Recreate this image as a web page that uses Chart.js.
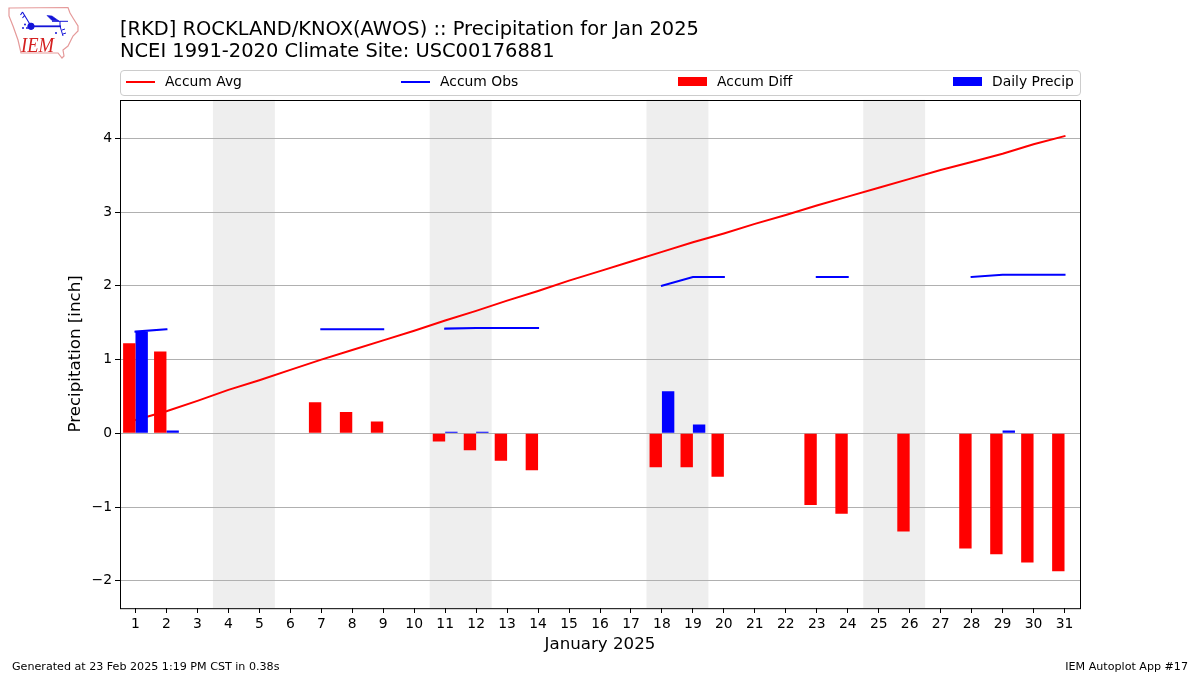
<!DOCTYPE html>
<html><head><meta charset="utf-8">
<style>
html,body{margin:0;padding:0;background:#fff;}
#wrap{position:relative;width:1200px;height:675px;overflow:hidden;font-family:"DejaVu Sans",sans-serif;color:#000;}
#c{position:absolute;left:0;top:0;}
#legend{position:absolute;left:120px;top:70px;width:959px;height:24px;border:1px solid #ccc;border-radius:4px;box-sizing:content-box;}
.li{position:absolute;top:0;height:24px;font-size:13.89px;line-height:20px;white-space:nowrap;}
.foot{position:absolute;top:660px;font-size:11.11px;line-height:13px;white-space:nowrap;}
#logo{position:absolute;left:5px;top:3px;}
</style></head><body>
<div id="wrap">
<canvas id="c" width="1200" height="675" style="width:1200px;height:675px"></canvas>
<svg id="logo" width="80" height="58" viewBox="0 0 80 58">
<path d="M4 5 L63 4.5 L65 10 L68 15 L73 23 L73 28 L68 33 L66 37 L63 43 L58 47 L59 53 L57 55 L53 50 L16 50 L13 37 L8 23 L4 13 Z" fill="none" stroke="#e59a9a" stroke-width="1.2"/>
<g stroke="#1414d8" fill="#1414d8">
<path d="M26 23.3 H56" stroke-width="1.8"/>
<circle cx="26" cy="23.3" r="3.2"/>
<path d="M26 23 L17.5 9 M17.5 9 L15.5 12 M19.5 12.5 L17.5 15" fill="none" stroke-width="1.1"/>
<path d="M42 12.5 L47 13 L54 18 L47 17.5 Z" stroke-width="0.6"/>
<path d="M47 18.3 H63 M55 18 V23 L58 33 M57 27 L60 26 M58 31 L61 30" fill="none" stroke-width="1"/>
<circle cx="20" cy="21.5" r="1" stroke="none"/><circle cx="18" cy="25" r="1" stroke="none"/><circle cx="22" cy="25" r="1" stroke="none"/>
<circle cx="51" cy="30" r="1" stroke="none"/>
</g>
<text x="16" y="48.5" font-family="Liberation Serif" font-style="italic" font-size="20" fill="#d42020" textLength="33" lengthAdjust="spacingAndGlyphs">IEM</text>
</svg>
<div id="legend"></div>
<div class="foot" style="left:12px">Generated at 23 Feb 2025 1:19 PM CST in 0.38s</div>
<div class="foot" style="right:12px">IEM Autoplot App #17</div>
</div>
<script src="https://cdn.jsdelivr.net/npm/chart.js@4/dist/chart.umd.min.js"></script>
<script>
const titleLines = ["[RKD] ROCKLAND/KNOX(AWOS) :: Precipitation for Jan 2025","NCEI 1991-2020 Climate Site: USC00176881"];
const days = ["1","2","3","4","5","6","7","8","9","10","11","12","13","14","15","16","17","18","19","20","21","22","23","24","25","26","27","28","29","30","31"];
const accumAvg = [0.18,0.30,0.44,0.59,0.72,0.86,1.00,1.13,1.26,1.39,1.53,1.66,1.80,1.93,2.07,2.20,2.33,2.46,2.59,2.71,2.84,2.96,3.09,3.21,3.33,3.45,3.57,3.68,3.79,3.92,4.03];
const accumObs = [1.38,1.41,null,null,null,null,1.41,1.41,1.41,null,1.42,1.43,1.43,1.43,null,null,null,2.00,2.12,2.12,null,null,2.12,2.12,null,null,null,2.12,2.15,2.15,2.15];
const accumDiff = [1.22,1.11,null,null,null,null,0.42,0.29,0.16,null,-0.11,-0.23,-0.37,-0.50,null,null,null,-0.46,-0.46,-0.59,null,null,-0.97,-1.09,null,-1.33,null,-1.56,-1.64,-1.75,-1.87];
const dailyPrecip = [1.38,0.04,null,null,null,null,null,null,null,null,0.02,0.02,null,null,null,null,null,0.57,0.12,null,null,null,null,null,null,null,null,null,0.04,null,null];
const weekendStart = ["4","11","18","25"];
const weekendEnd = ["5","12","19","26"];
const yTicks = [-2,-1,0,1,2,3,4];

const font = '"DejaVu Sans", sans-serif';
Chart.defaults.font.family = font;
Chart.defaults.color = '#000';

const shading = {
  id:'shading',
  beforeDraw(chart){
    const {ctx,chartArea:a,scales:{x}} = chart;
    const half = x.width/days.length/2;
    ctx.save(); ctx.fillStyle='#eeeeee';
    weekendStart.forEach((d,i)=>{
      const x0 = x.getPixelForValue(days.indexOf(d))-half;
      const x1 = x.getPixelForValue(days.indexOf(weekendEnd[i]))+half;
      ctx.fillRect(x0,a.top,x1-x0,a.bottom-a.top);
    });
    ctx.restore();
  }
};
const frame = {
  id:'frame',
  afterDraw(chart){
    const {ctx,chartArea:a} = chart;
    ctx.save(); ctx.strokeStyle='#000'; ctx.lineWidth=1;
    ctx.strokeRect(Math.round(a.left)+0.5,Math.round(a.top)+0.5,a.right-a.left,a.bottom-a.top);
    ctx.restore();
  }
};
const chart = new Chart(document.getElementById('c'),{
  data:{labels:days,datasets:[
    {type:'line',label:'Accum Avg',data:accumAvg,borderColor:'#ff0000',backgroundColor:'#ff0000',borderWidth:2,borderCapStyle:'square',pointRadius:0,tension:0,order:3,spanGaps:false},
    {type:'line',label:'Accum Obs',data:accumObs,borderColor:'#0000ff',backgroundColor:'#0000ff',borderWidth:2,borderCapStyle:'square',pointRadius:0,tension:0,order:3,spanGaps:false},
    {type:'bar',label:'Accum Diff',data:accumDiff,backgroundColor:'#ff0000',borderWidth:0,categoryPercentage:0.8,barPercentage:1,order:1},
    {type:'bar',label:'Daily Precip',data:dailyPrecip,backgroundColor:'#0000ff',borderWidth:0,categoryPercentage:0.8,barPercentage:1,order:2}
  ]},
  options:{
    responsive:false,animation:false,
    layout:{padding:{left:66,top:0,right:120,bottom:20}},
    plugins:{
      legend:{display:false},
      tooltip:{enabled:false},
      title:{display:true,fullSize:false,align:'start',text:titleLines,color:'#000',
        font:{size:19.44,weight:'normal',family:font,lineHeight:1.14},padding:{top:18.5,bottom:37}}
    },
    scales:{
      x:{type:'category',offset:true,
        grid:{display:true,drawOnChartArea:false,drawTicks:true,tickLength:5,tickColor:'#000',offset:false},
        border:{display:false},
        ticks:{autoSkip:false,maxRotation:0,minRotation:0,padding:3,font:{size:13.89}},
        title:{display:true,text:'January 2025',font:{size:16.67},padding:{top:0,bottom:0},color:'#000'},
        afterFit(s){s.height=47;}
      },
      y:{type:'linear',min:-2.368,max:4.522,
        grid:{color:'#b0b0b0',lineWidth:1,tickColor:'#000',tickLength:5},
        border:{display:false},
        afterBuildTicks(s){s.ticks=yTicks.map(v=>({value:v}));},
        ticks:{padding:3,includeBounds:false,font:{size:13.89},callback:v=>String(v).replace('-','\u2212')},
        title:{display:true,text:'Precipitation [inch]',font:{size:16.67},padding:{top:0,bottom:0},color:'#000'},
        afterFit(s){s.width=54;}
      }
    }
  },
  plugins:[shading,frame]
});
// HTML legend built from the chart's datasets, laid out in expanded columns
const legendX = [5,280,557,832];
const legendEl = document.getElementById('legend');
chart.data.datasets.forEach((ds,i)=>{
  const li=document.createElement('div'); li.className='li'; li.style.left=legendX[i]+'px';
  const isBar=ds.type==='bar';
  const sw=document.createElement('span');
  sw.style.cssText='position:absolute;left:0;width:29px;background:'+ds.backgroundColor+';top:'+(isBar?'6px':'9.5px')+';height:'+(isBar?'9px':'2px');
  const tx=document.createElement('span'); tx.textContent=ds.label;
  tx.style.cssText='position:absolute;left:39px;top:0';
  li.appendChild(sw); li.appendChild(tx); legendEl.appendChild(li);
});
</script>
</body></html>
